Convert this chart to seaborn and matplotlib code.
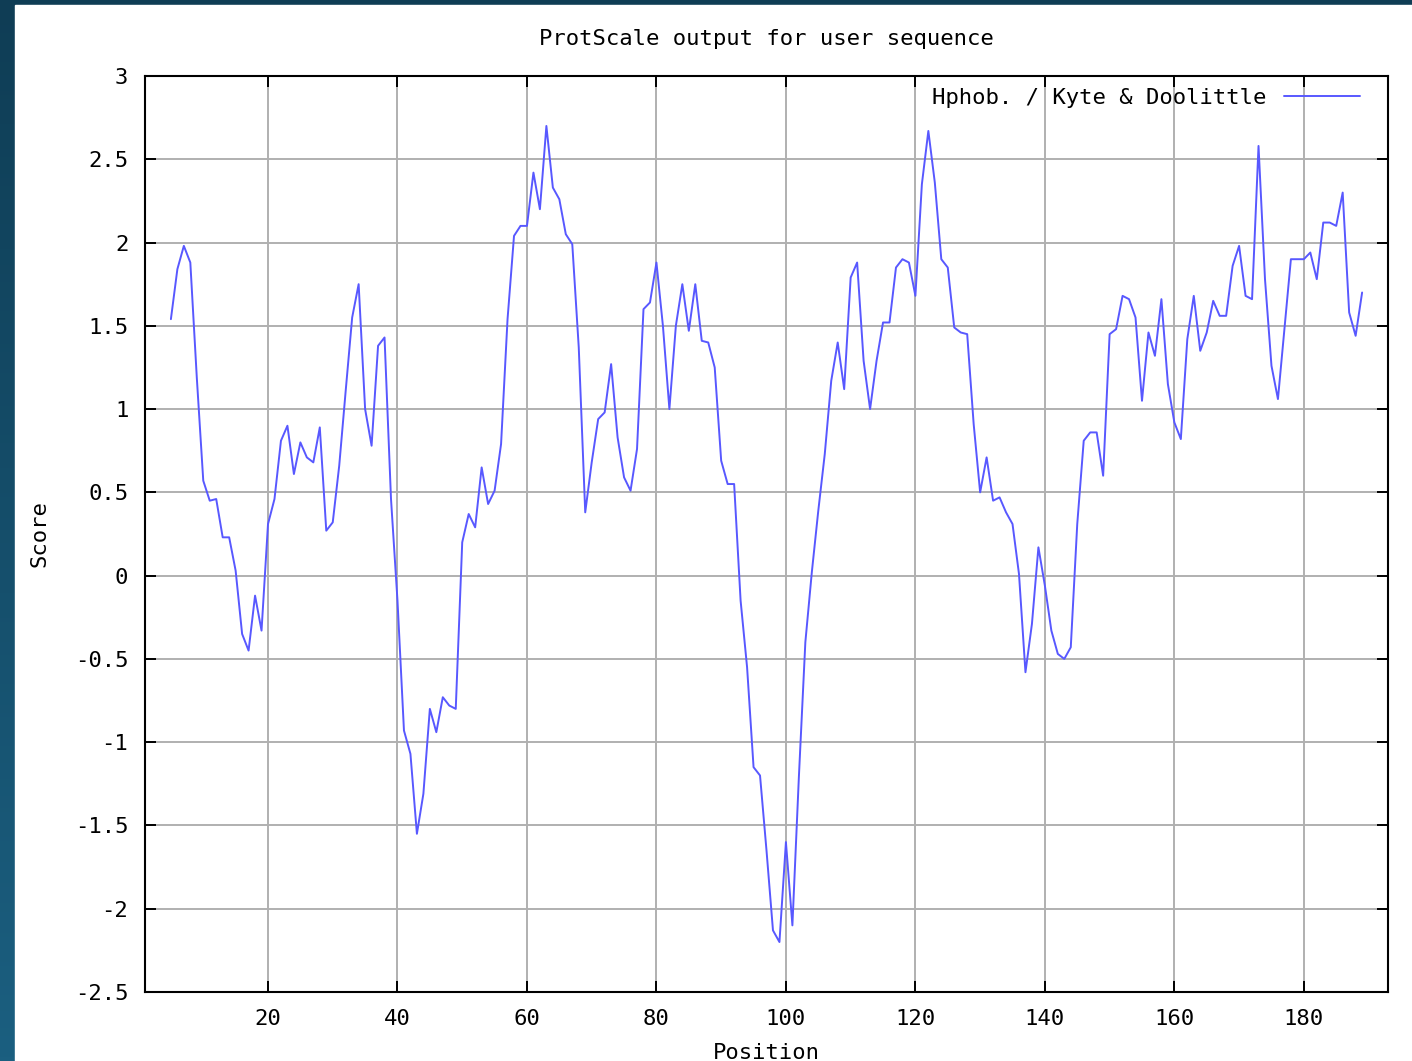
import numpy as np
import pandas as pd
import matplotlib
matplotlib.use("Agg")
import matplotlib.pyplot as plt
from matplotlib.patches import Rectangle
import seaborn as sns

# Kyte & Doolittle hydrophobicity, window 9, positions 5..189
positions = list(range(5, 190))
scores = [
    1.54, 1.84, 1.98, 1.88, 1.19, 0.57, 0.45, 0.46, 0.23, 0.23,
    0.03, -0.35, -0.45, -0.12, -0.33, 0.31, 0.46, 0.81, 0.90, 0.61,
    0.80, 0.71, 0.68, 0.89, 0.27, 0.32, 0.66, 1.11, 1.55, 1.75,
    1.00, 0.78, 1.38, 1.43, 0.46, -0.15, -0.93, -1.07, -1.55, -1.31,
    -0.80, -0.94, -0.73, -0.78, -0.80, 0.20, 0.37, 0.29, 0.65, 0.43,
    0.51, 0.79, 1.54, 2.04, 2.10, 2.10, 2.42, 2.20, 2.70, 2.33,
    2.26, 2.05, 1.99, 1.37, 0.38, 0.68, 0.94, 0.98, 1.27, 0.83,
    0.59, 0.51, 0.76, 1.60, 1.64, 1.88, 1.50, 1.00, 1.50, 1.75,
    1.47, 1.75, 1.41, 1.40, 1.25, 0.69, 0.55, 0.55, -0.15, -0.55,
    -1.15, -1.20, -1.65, -2.13, -2.20, -1.60, -2.10, -1.21, -0.40, 0.02,
    0.39, 0.73, 1.17, 1.40, 1.12, 1.79, 1.88, 1.29, 1.00, 1.29,
    1.52, 1.52, 1.85, 1.90, 1.88, 1.68, 2.35, 2.67, 2.36, 1.90,
    1.85, 1.49, 1.46, 1.45, 0.91, 0.50, 0.71, 0.45, 0.47, 0.38,
    0.31, 0.01, -0.58, -0.29, 0.17, -0.06, -0.33, -0.47, -0.50, -0.43,
    0.31, 0.81, 0.86, 0.86, 0.60, 1.45, 1.48, 1.68, 1.66, 1.55,
    1.05, 1.46, 1.32, 1.66, 1.15, 0.92, 0.82, 1.42, 1.68, 1.35,
    1.46, 1.65, 1.56, 1.56, 1.86, 1.98, 1.68, 1.66, 2.58, 1.78,
    1.26, 1.06, 1.48, 1.90, 1.90, 1.90, 1.94, 1.78, 2.12, 2.12,
    2.10, 2.30, 1.58, 1.44, 1.70,
]
x_ticks = [20, 40, 60, 80, 100, 120, 140, 160, 180]
y_ticks = [-2.5, -2, -1.5, -1, -0.5, 0, 0.5, 1, 1.5, 2, 2.5, 3]
y_labels = ["-2.5", "-2", "-1.5", "-1", "-0.5", "0", "0.5", "1", "1.5", "2", "2.5", "3"]

df = pd.DataFrame({"Position": positions, "Score": scores})

sns.set_style("ticks")
plt.rcParams["font.family"] = ["DejaVu Sans Mono"]
plt.rcParams["text.color"] = "black"
plt.rcParams["axes.labelcolor"] = "black"
fs = 16

W, H = 1412, 1061
fig = plt.figure(figsize=(W / 100, H / 100), dpi=100)

# dark screenshot frame with white panel
bg = fig.add_axes([0, 0, 1, 1], zorder=-10)
grad = np.linspace(0, 1, 256).reshape(-1, 1)
cmap = matplotlib.colors.LinearSegmentedColormap.from_list("frame", ["#0f3d55", "#1b5f80"])
bg.imshow(grad, aspect="auto", cmap=cmap, extent=[0, 1, 0, 1], origin="upper")
bg.add_patch(Rectangle((15 / W, 0), 1 - 15 / W, 1 - 5 / H, color="white", transform=bg.transAxes))
bg.set_axis_off()

ax = fig.add_axes([145 / W, (H - 992) / H, (1388 - 145) / W, (992 - 76) / H])
ax.set_facecolor("white")

sns.lineplot(data=df, x="Position", y="Score", ax=ax, color="#5858ff",
             linewidth=1.4, label="Hphob. / Kyte & Doolittle", zorder=3)

ax.set_xlim(1, 193)
ax.set_ylim(-2.5, 3)
ax.set_xticks(x_ticks)
ax.set_xticklabels([str(t) for t in x_ticks], fontsize=fs)
ax.set_yticks(y_ticks)
ax.set_yticklabels(y_labels, fontsize=fs)
ax.grid(True, color="#b0b0b0", linewidth=1.4, zorder=0)
ax.set_axisbelow(True)
ax.tick_params(direction="in", length=8, width=1.4, top=True, right=True,
               color="black", labelcolor="black")
ax.tick_params(axis="x", pad=12)
ax.tick_params(axis="y", pad=12)
for sp in ax.spines.values():
    sp.set_visible(True)
    sp.set_linewidth(1.5)
    sp.set_color("black")

ax.set_xlabel("Position", fontsize=fs, labelpad=10)
ax.set_ylabel("Score", fontsize=fs, labelpad=18)
ax.set_title("ProtScale output for user sequence", fontsize=fs, pad=22)

ax.legend(loc="center right", bbox_to_anchor=((1360 - 145) / (1388 - 145), (992 - 98) / (992 - 76)),
          frameon=False, markerfirst=False, fontsize=fs, handlelength=3.4,
          handletextpad=0.8, borderpad=0, borderaxespad=0)

fig.savefig("out.png", dpi=100)
